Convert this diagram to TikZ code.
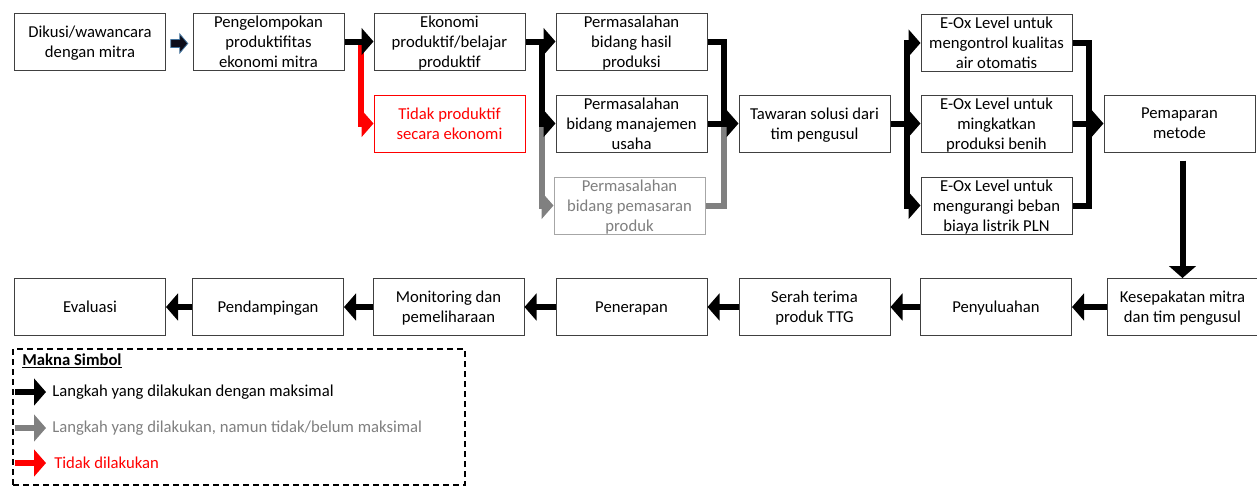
\documentclass[tikz,border=0pt]{standalone}
\usepackage{fontspec}
\setmainfont{Carlito}
\usetikzlibrary{arrows.meta,calc}
\definecolor{bordergray}{HTML}{404040}
\definecolor{midgray}{HTML}{808080}
\definecolor{txtgray}{HTML}{7F7F7F}
\definecolor{lightborder}{HTML}{A6A6A6}
\definecolor{arrred}{HTML}{FF0000}
\definecolor{navyfill}{HTML}{0D0D1A}
\definecolor{navyline}{HTML}{41719C}
\begin{document}
\begin{tikzpicture}[x=0.75pt,y=-0.75pt,
  font=\fontsize{12.5}{15}\selectfont,
  box/.style={draw=bordergray, line width=0.75pt, fill=white,
    minimum width=113.25pt, minimum height=42.75pt,
    inner xsep=1pt, inner ysep=-6pt, align=center, text depth=0pt},
  blk/.style={line width=4.5pt, draw=black, -{Triangle[length=9pt,width=20pt]}},
  blkline/.style={line width=4.5pt, draw=black},
  greyarr/.style={line width=4.5pt, draw=midgray, -{Triangle[length=9pt,width=20pt]}},
  greyline/.style={line width=4.5pt, draw=midgray},
  redarr/.style={line width=4.5pt, draw=arrred, -{Triangle[length=9pt,width=20pt]}},
  legendbox/.style={draw=black, line width=1.1pt, dash pattern=on 4.5pt off 3pt,
    minimum width=339pt, minimum height=102pt, inner sep=0pt},
  legtext/.style={anchor=west, inner sep=0pt}
]
\useasboundingbox (0,0) rectangle (1257,487);

% row 1
\node[box] (d1) at (90,41.5) {Dikusi/wawancara\\dengan mitra};
\node[box] (d2) at (268.5,41.5) {Pengelompokan\\produktifitas\\ekonomi mitra};
\node[box] (d3) at (449.5,41.5) {Ekonomi\\produktif/belajar\\produktif};
\node[box, draw=arrred, text=arrred] (d4) at (449.5,123.5) {Tidak produktif\\secara ekonomi};
\node[box] (h1) at (631.5,41.5) {Permasalahan\\bidang hasil\\produksi};
\node[box] (h2) at (631.5,123.5) {Permasalahan\\bidang manajemen\\usaha};
\node[box, draw=lightborder, text=txtgray] (h3) at (629.5,205.5) {Permasalahan\\bidang pemasaran\\produk};
\node[box] (tw) at (814.5,123.5) {Tawaran solusi dari\\tim pengusul};
\node[box] (e1) at (996.5,43) {E-Ox Level untuk\\mengontrol kualitas\\air otomatis};
\node[box] (e2) at (996.5,123.5) {E-Ox Level untuk\\mingkatkan\\produksi benih};
\node[box] (e3) at (996.5,205.5) {E-Ox Level untuk\\mengurangi beban\\biaya listrik PLN};
\node[box] (pm) at (1179.5,123.5) {Pemaparan\\metode};

% row 2
\node[box] (ks) at (1182.5,307) {Kesepakatan mitra\\dan tim pengusul};
\node[box] (py) at (996,307) {Penyuluahan};
\node[box] (st) at (814.5,307) {Serah terima\\produk TTG};
\node[box] (pr) at (631.5,307) {Penerapan};
\node[box] (mo) at (448.5,307) {Monitoring dan\\pemeliharaan};
\node[box] (pd) at (268,307) {Pendampingan};
\node[box] (ev) at (90,307) {Evaluasi};

% small first arrow
\coordinate (sa) at ($(d1.east)!0.5!(d2.west)+(0,2)$);
\filldraw[fill=navyfill, draw=navyline, line width=0.6pt]
  ([shift={(-8.5,-4)}]sa) -- ([shift={(0.5,-4)}]sa) -- ([shift={(0.5,-9.5)}]sa)
  -- ([shift={(8.5,0)}]sa) -- ([shift={(0.5,9.5)}]sa) -- ([shift={(0.5,4)}]sa)
  -- ([shift={(-8.5,4)}]sa) -- cycle;

% d2 -> d3 / d4
\coordinate (b1) at ([xshift=12pt]d2.east);
\draw[redarr] (b1) |- (d4.west);
\draw[blk] (d2.east) -- (d3.west);

% d3 -> problems
\coordinate (b2) at ([xshift=12pt]d3.east);
\draw[greyarr] (b2 |- h2.west) |- (h3.west);
\draw[blk] (d3.east) -- (h1.west);
\draw[blk] (b2) |- (h2.west);

% problems -> tawaran
\coordinate (b3) at ([xshift=12pt]h1.east);
\draw[greyline] (h3.east) -| (b3 |- tw.west);
\draw[blkline] (h1.east) -| (b3 |- tw.west);
\draw[blk] (h2.east) -- (tw.west);

% tawaran -> E-Ox
\coordinate (b4) at ([xshift=12pt]tw.east);
\draw[blk] (tw.east) -- (e2.west);
\draw[blk] (b4) |- (e1.west);
\draw[blk] (b4) |- (e3.west);

% E-Ox -> pemaparan
\coordinate (b5) at ([xshift=12pt]e1.east);
\draw[blkline] (e1.east) -| (b5 |- pm.west);
\draw[blkline] (e3.east) -| (b5 |- pm.west);
\draw[blk] (e2.east) -- (pm.west);

% pemaparan -> kesepakatan
\coordinate (b6) at ([yshift=-6pt]pm.south);
\draw[blk] (b6 -| ks.north) -- (ks.north);

% row 2 leftwards
\draw[blk] (ks.west) -- (py.east);
\draw[blk] (py.west) -- (st.east);
\draw[blk] (st.west) -- (pr.east);
\draw[blk] (pr.west) -- (mo.east);
\draw[blk] (mo.west) -- (pd.east);
\draw[blk] (pd.west) -- (ev.east);

% legend
\node[legendbox] (lg) at (239,417) {};
\node[legtext] (lt) at (22,361) {\bfseries\underline{Makna Simbol}};
\coordinate (l1a) at (15,392); \coordinate (l1b) at (46,392);
\coordinate (l2a) at (15,428); \coordinate (l2b) at (46,428);
\coordinate (l3a) at (15,463); \coordinate (l3b) at (46,463);
\draw[blk] (l1a) -- (l1b);
\draw[greyarr] (l2a) -- (l2b);
\draw[redarr] (l3a) -- (l3b);
\node[legtext] (lx1) at (52,392) {Langkah yang dilakukan dengan maksimal};
\node[legtext, text=txtgray] (lx2) at (52,428) {Langkah yang dilakukan, namun tidak/belum maksimal};
\node[legtext, text=arrred] (lx3) at (54,463) {Tidak dilakukan};
\end{tikzpicture}
\end{document}
